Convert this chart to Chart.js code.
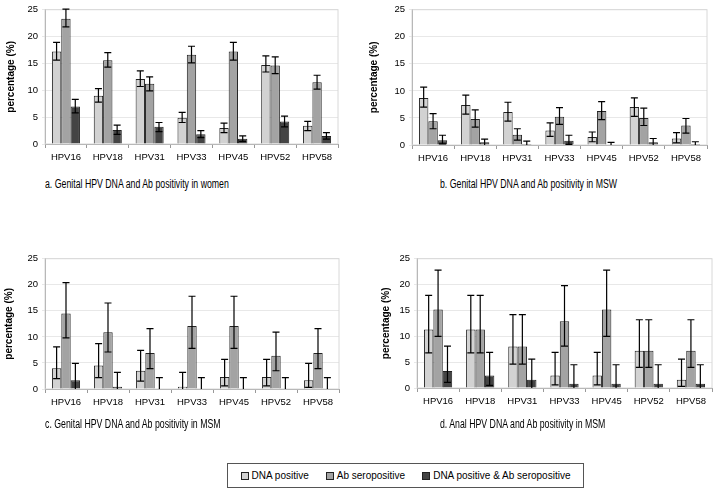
<!DOCTYPE html>
<html>
<head>
<meta charset="utf-8">
<script src="https://cdn.jsdelivr.net/npm/chart.js@4.4.1/dist/chart.umd.min.js"></script>
<style>
  body { margin: 0; background: #fff; }
  #wrap { position: relative; width: 715px; height: 492px; font-family: "Liberation Sans", Arial, sans-serif; }
  canvas { position: absolute; }
  .cap { position: absolute; font-size: 12.5px; color: #000; white-space: nowrap; transform: scaleX(0.7); transform-origin: left center; }
  #legend { position: absolute; left: 227px; top: 463px; border: 1px solid #555;
            font-size: 10px; display: flex; align-items: center; justify-content: space-around; padding: 0 4px; box-sizing: border-box; width: 357px; height: 25px; }
  #legend span.sw { display: inline-block; width: 6px; height: 6px; border: 1px solid #222; margin-right: 3px; vertical-align: -1px; }
</style>
</head>
<body>
<div id="wrap">
  <canvas id="pa" width="345" height="175" style="left:0;top:0"></canvas>
  <canvas id="pb" width="360" height="175" style="left:355px;top:0"></canvas>
  <canvas id="pc" width="345" height="170" style="left:0;top:249px"></canvas>
  <canvas id="pd" width="360" height="170" style="left:355px;top:249px"></canvas>
  <div class="cap" style="left:45px;top:177px">a. Genital HPV DNA and Ab positivity in women</div>
  <div class="cap" style="left:440px;top:177px">b. Genital HPV DNA and Ab positivity in MSW</div>
  <div class="cap" style="left:45px;top:417px">c. Genital HPV DNA and Ab positivity in MSM</div>
  <div class="cap" style="left:440px;top:417px">d. Anal HPV DNA and Ab positivity in MSM</div>
  <div id="legend">
    <div><span class="sw" style="background:#d2d2d2"></span>DNA positive</div>
    <div><span class="sw" style="background:#a3a3a3"></span>Ab seropositive</div>
    <div><span class="sw" style="background:#444"></span>DNA positive &amp; Ab seropositive</div>
  </div>
</div>
<script>
"use strict";

var types = ['HPV16', 'HPV18', 'HPV31', 'HPV33', 'HPV45', 'HPV52', 'HPV58'];
var seriesNames = ['DNA positive', 'Ab seropositive', 'DNA positive & Ab seropositive'];
var yTicks = [0, 5, 10, 15, 20, 25];

// a. genital, women
var womenDna = [17.2, 9.0, 12.1, 4.9, 3.0, 14.7, 3.4];
var womenDnaHi = [18.9, 10.3, 13.6, 5.9, 3.9, 16.4, 4.2];
var womenDnaLo = [15.6, 7.8, 10.7, 4.0, 2.1, 13.4, 2.5];
var womenAb = [23.3, 15.6, 11.2, 16.6, 17.2, 14.6, 11.5];
var womenAbHi = [25.1, 17.0, 12.5, 18.2, 18.9, 16.2, 12.8];
var womenAbLo = [21.8, 14.3, 9.9, 15.1, 15.6, 13.1, 10.2];
var womenBoth = [7.0, 2.6, 3.2, 1.8, 1.0, 4.2, 1.5];
var womenBothHi = [8.3, 3.5, 4.0, 2.5, 1.5, 5.2, 2.1];
var womenBothLo = [5.8, 1.8, 2.3, 1.2, 0.5, 3.2, 0.9];

// b. genital, MSW
var mswDna = [8.7, 7.4, 6.1, 2.7, 1.5, 7.0, 1.2];
var mswDnaHi = [10.7, 9.2, 7.9, 4.1, 2.4, 8.7, 2.3];
var mswDnaLo = [7.0, 5.7, 4.4, 1.6, 0.6, 5.3, 0.4];
var mswAb = [4.4, 4.8, 1.9, 5.2, 6.3, 5.0, 3.6];
var mswAbHi = [5.8, 6.5, 3.0, 6.9, 8.0, 6.8, 4.9];
var mswAbLo = [3.0, 3.3, 0.9, 3.8, 4.7, 3.6, 2.2];
var mswBoth = [0.9, 0.5, 0.2, 0.8, 0, 0.5, 0.2];
var mswBothHi = [1.8, 1.1, 0.7, 1.8, 0.5, 1.2, 0.6];
var mswBothLo = [0.2, 0, 0, 0.1, 0, 0, 0];

// c. genital, MSM
var msmDna = [4.0, 4.5, 3.5, 0.45, 2.3, 2.3, 1.7];
var msmDnaHi = [8.1, 8.7, 7.4, 3.2, 5.7, 5.7, 4.9];
var msmDnaLo = [2.0, 2.2, 1.5, 0, 0.6, 0.6, 0.3];
var msmAb = [14.5, 10.9, 6.9, 12.1, 12.1, 6.4, 6.9];
var msmAbHi = [20.4, 16.5, 11.6, 17.8, 17.8, 10.9, 11.6];
var msmAbLo = [9.8, 7.1, 3.9, 7.8, 7.8, 3.5, 3.9];
var msmBoth = [1.7, 0.45, 0, 0, 0, 0, 0];
var msmBothHi = [4.9, 3.2, 2.2, 2.2, 2.2, 2.2, 2.2];
var msmBothLo = [0, 0, 0, 0, 0, 0, 0];

// d. anal, MSM
var analDna = [11.3, 11.3, 8.0, 2.4, 2.4, 7.2, 1.6];
var analDnaHi = [17.9, 17.9, 14.2, 6.9, 6.9, 13.2, 5.6];
var analDnaLo = [6.8, 6.8, 4.6, 0.6, 0.6, 4.0, 0.3];
var analAb = [15.2, 11.3, 8.0, 12.9, 15.2, 7.2, 7.2];
var analAbHi = [22.8, 17.9, 14.2, 19.8, 22.8, 13.2, 13.2];
var analAbLo = [10.0, 6.8, 4.6, 8.1, 10.0, 4.0, 4.0];
var analBoth = [3.3, 2.4, 1.6, 0.8, 0.8, 0.8, 0.8];
var analBothHi = [8.1, 6.9, 5.6, 4.5, 4.5, 4.5, 4.5];
var analBothLo = [1.1, 0.5, 0, 0, 0, 0, 0];

var fills = ['#d2d2d2', '#a3a3a3', '#444444'];

var errorBars = {
  id: 'errorBars',
  afterDatasetsDraw: function (chart) {
    var ctx = chart.ctx, y = chart.scales.y;
    ctx.save();
    ctx.strokeStyle = '#000';
    ctx.lineWidth = 1.2;
    chart.data.datasets.forEach(function (ds, i) {
      chart.getDatasetMeta(i).data.forEach(function (bar, j) {
        var top = y.getPixelForValue(ds.hi[j]);
        var bot = y.getPixelForValue(ds.lo[j]);
        ctx.beginPath();
        ctx.moveTo(bar.x, top); ctx.lineTo(bar.x, bot);
        ctx.moveTo(bar.x - 3.5, top); ctx.lineTo(bar.x + 3.5, top);
        if (ds.lo[j] > 0) { ctx.moveTo(bar.x - 3.5, bot); ctx.lineTo(bar.x + 3.5, bot); }
        ctx.stroke();
      });
    });
    ctx.restore();
  }
};

var plotFrame = {
  id: 'plotFrame',
  beforeDatasetsDraw: function (chart) {
    var a = chart.chartArea, ctx = chart.ctx;
    ctx.save();
    ctx.strokeStyle = '#d8d8d8';
    ctx.lineWidth = 1;
    ctx.strokeRect(a.left, a.top, a.right - a.left, a.bottom - a.top);
    ctx.restore();
  }
};

function panel(id, vals, his, los, lay) {
  var datasets = seriesNames.map(function (name, k) {
    return {
      label: name,
      data: vals[k],
      hi: his[k],
      lo: los[k],
      backgroundColor: fills[k],
      borderColor: '#222',
      borderWidth: 1,
      categoryPercentage: 0.67,
      barPercentage: 1
    };
  });
  return new Chart(document.getElementById(id), {
    type: 'bar',
    data: { labels: types, datasets: datasets },
    plugins: [plotFrame, errorBars],
    options: {
      responsive: false,
      animation: false,
      layout: { padding: { left: lay.padL, top: lay.padT, right: lay.padR, bottom: 0 } },
      plugins: { legend: { display: false }, tooltip: { enabled: false } },
      scales: {
        x: {
          grid: { drawOnChartArea: false, tickLength: 4, color: '#999' },
          border: { color: '#999' },
          ticks: { color: '#000', font: { size: 9.5, family: 'Liberation Sans' }, padding: 4, maxRotation: 0 },
          afterFit: function (s) { s.height = lay.xH; }
        },
        y: {
          min: 0, max: 25,
          afterBuildTicks: function (s) { s.ticks = yTicks.map(function (v) { return { value: v }; }); },
          grid: { color: '#e8e8e8', tickLength: 3 },
          border: { color: '#999' },
          ticks: { color: '#000', font: { size: 9.5, family: 'Liberation Sans' }, padding: 4 },
          title: { display: true, text: 'percentage (%)', color: '#000', padding: 0,
                   font: { size: 10, weight: 'bold', family: 'Liberation Sans' } },
          afterFit: function (s) { s.width = lay.yW; }
        }
      }
    }
  });
}

panel('pa', [womenDna, womenAb, womenBoth], [womenDnaHi, womenAbHi, womenBothHi], [womenDnaLo, womenAbLo, womenBothLo],
  { padL: 5, yW: 40, padT: 8, padR: 7, xH: 31 });
panel('pb', [mswDna, mswAb, mswBoth], [mswDnaHi, mswAbHi, mswBothHi], [mswDnaLo, mswAbLo, mswBothLo],
  { padL: 13, yW: 44, padT: 7, padR: 8, xH: 30 });
panel('pc', [msmDna, msmAb, msmBoth], [msmDnaHi, msmAbHi, msmBothHi], [msmDnaLo, msmAbLo, msmBothLo],
  { padL: 3, yW: 42, padT: 8, padR: 6, xH: 30 });
panel('pd', [analDna, analAb, analBoth], [analDnaHi, analAbHi, analBothHi], [analDnaLo, analAbLo, analBothLo],
  { padL: 25, yW: 37, padT: 8, padR: 3, xH: 31 });
</script>
</body>
</html>
